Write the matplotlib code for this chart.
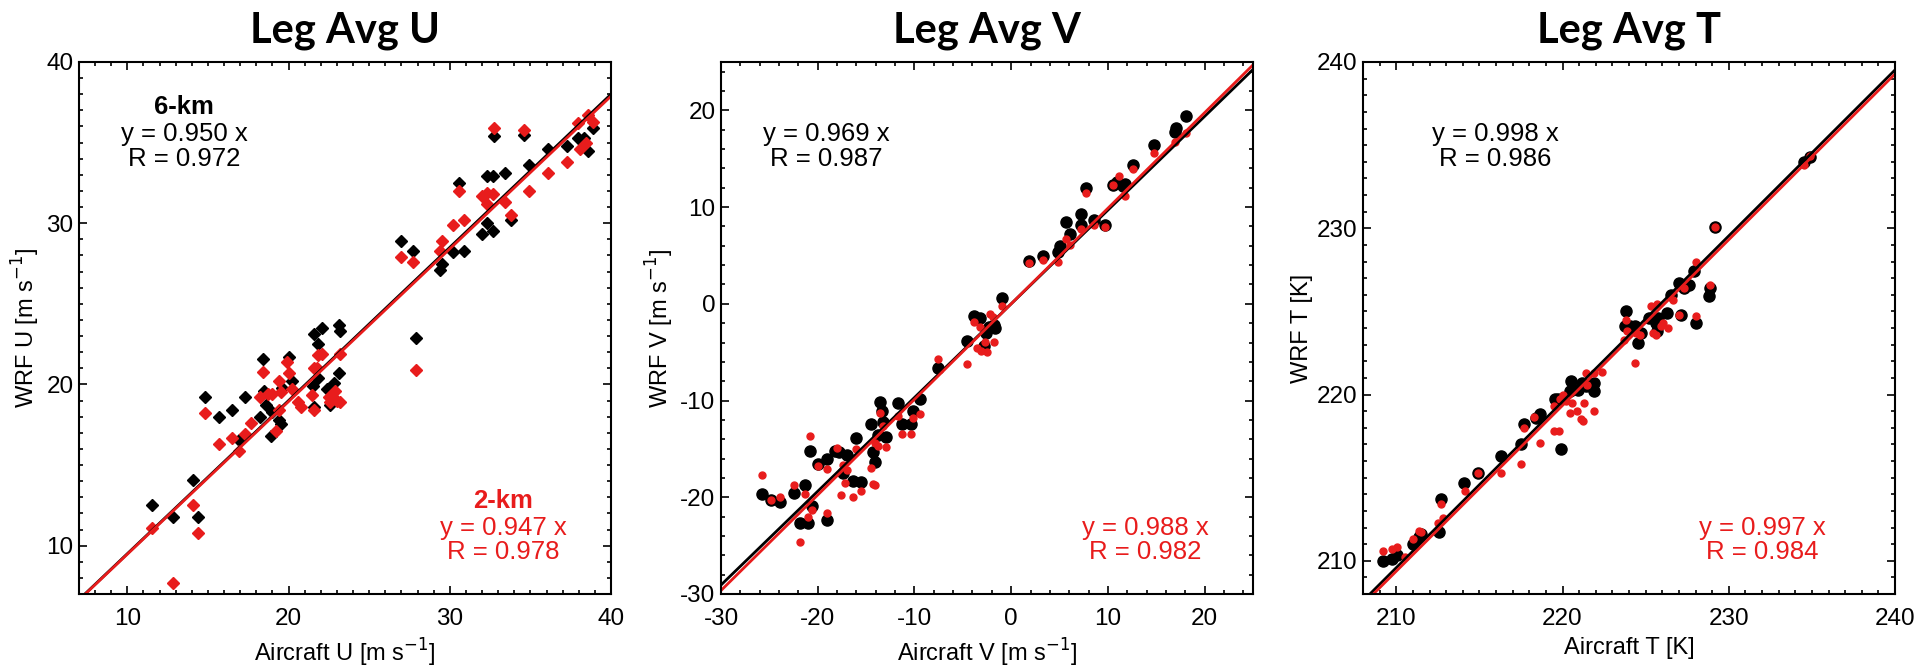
import matplotlib
matplotlib.use("Agg")
import matplotlib.pyplot as plt
from matplotlib.ticker import MultipleLocator

plt.rcParams['font.family'] = ['Liberation Sans', 'DejaVu Sans']
plt.rcParams['axes.unicode_minus'] = False

RED = '#e81c1c'

# ---- Leg Avg U (diamonds) ----
u_obs_6km = [11.5, 12.8, 14.1, 14.4, 14.8, 15.7, 16.5, 16.95, 17.3, 18.2, 18.4, 18.5,
             18.6, 18.9, 19.0, 19.4, 19.5, 19.6, 20.0, 20.2, 21.6, 21.5, 21.6, 21.8,
             22.1, 21.8, 22.4, 22.6, 22.8, 23.1, 23.1, 23.2, 27.0, 27.7, 27.9, 29.4,
             29.5, 30.2, 30.6, 30.9, 32.0, 32.3, 32.7, 32.3, 32.7, 32.75, 33.4, 33.8,
             34.6, 34.9, 36.1, 37.3, 37.95, 38.3, 38.6, 38.9]
u_wrf_6km = [12.5, 11.75, 14.1, 11.75, 19.2, 18.0, 18.4, 16.55, 19.2, 18.0, 21.6, 19.6,
             18.75, 16.8, 18.3, 17.8, 17.55, 19.8, 21.7, 20.2, 23.1, 19.9, 18.6, 22.5,
             23.5, 20.4, 19.7, 18.75, 20.1, 20.7, 23.7, 23.3, 28.9, 28.3, 22.9, 27.1,
             27.5, 28.2, 32.5, 28.3, 29.3, 30.0, 29.5, 32.9, 32.9, 35.4, 33.1, 30.2,
             35.5, 33.6, 34.6, 34.8, 35.3, 35.3, 34.5, 35.9]
u_obs_2km = [11.5, 12.8, 14.1, 14.4, 14.8, 15.7, 16.5, 16.95, 17.3, 17.7, 18.2, 18.4,
             18.75, 19.0, 19.25, 19.4, 19.55, 19.4, 19.9, 20.0, 20.2, 20.6, 20.8, 21.45,
             21.6, 21.6, 21.75, 21.8, 22.1, 22.5, 22.6, 22.9, 23.0, 23.2, 23.2, 27.0,
             27.7, 27.9, 29.4, 29.5, 30.2, 30.6, 30.9, 32.0, 32.3, 32.7, 32.3, 32.75,
             33.4, 33.8, 34.6, 34.9, 36.1, 37.3, 37.95, 38.1, 38.45, 38.6, 38.9]
u_wrf_2km = [11.1, 7.7, 12.5, 10.8, 18.2, 16.3, 16.7, 15.9, 16.9, 17.6, 19.2, 20.8,
             19.4, 19.4, 17.1, 20.2, 19.5, 18.4, 21.4, 20.7, 19.7, 18.9, 18.6, 19.35,
             18.4, 21.0, 21.0, 21.8, 21.9, 19.2, 18.9, 19.6, 19.0, 21.9, 18.9, 27.9,
             27.6, 20.9, 28.3, 28.9, 29.9, 32.0, 30.2, 31.7, 31.9, 31.8, 31.2, 35.9,
             31.3, 30.5, 35.8, 32.0, 33.1, 33.8, 36.2, 34.6, 35.0, 36.7, 36.3]

# ---- Leg Avg V (circles) ----
v_obs_6km = [-25.8, -24.8, -23.9, -22.5, -21.3, -21.85, -21.0, -20.75, -20.6, -20.0,
             -19.0, -19.0, -18.2, -17.8, -17.4, -17.0, -16.35, -16.0, -15.5, -14.5,
             -14.3, -14.1, -13.8, -13.6, -13.4, -13.3, -12.9, -11.7, -11.3, -10.4,
             -10.2, -9.4, -7.6, -4.6, -3.8, -3.2, -2.8, -2.6, -2.3, -1.8, -1.7, -0.9,
             1.8, 3.3, 4.8, 5.05, 5.7, 6.1, 7.2, 7.2, 7.7, 8.6, 9.65, 10.5, 10.95,
             11.6, 11.8, 12.6, 14.8, 16.9, 17.0, 18.1]
v_wrf_6km = [-19.7, -20.3, -20.5, -19.6, -18.7, -22.7, -22.7, -15.2, -20.9, -16.6,
             -16.0, -22.3, -15.2, -15.3, -17.5, -15.6, -18.3, -13.9, -18.4, -12.4,
             -15.3, -16.4, -13.6, -10.1, -11.1, -12.2, -13.8, -10.3, -12.4, -12.4,
             -11.1, -9.8, -6.6, -3.8, -1.3, -1.5, -4.4, -3.0, -2.4, -2.2, -2.5, 0.6,
             4.4, 4.9, 5.4, 6.0, 8.5, 7.2, 9.3, 8.2, 12.0, 8.7, 8.2, 12.3, 12.6,
             12.2, 12.4, 14.3, 16.4, 17.8, 18.2, 19.4]
v_obs_2km = [-25.8, -24.8, -23.9, -22.5, -21.85, -21.3, -21.0, -20.75, -20.6, -20.0,
             -19.0, -19.0, -18.0, -17.6, -17.4, -17.2, -17.0, -16.35, -16.0, -15.5,
             -14.5, -14.3, -14.1, -14.1, -13.8, -13.6, -13.3, -12.9, -11.7, -11.3,
             -10.4, -10.2, -9.4, -7.6, -4.6, -3.8, -3.5, -3.2, -3.1, -2.7, -2.5, -2.2,
             -1.9, -1.8, -0.9, 1.8, 3.3, 4.8, 5.7, 6.1, 7.2, 7.7, 8.6, 9.65, 10.5,
             11.1, 11.8, 12.6, 14.8, 16.9, 18.1]
v_wrf_2km = [-17.7, -20.3, -20.0, -18.7, -24.6, -19.7, -22.0, -13.7, -21.3, -16.8,
             -21.6, -17.1, -14.9, -19.8, -16.7, -18.5, -17.2, -20.0, -15.0, -19.4,
             -17.0, -18.6, -18.7, -14.4, -14.7, -11.3, -12.6, -14.8, -11.6, -13.5,
             -13.5, -11.8, -11.4, -5.7, -6.2, -1.9, -4.6, -2.4, -4.9, -3.9, -5.0, -1.1,
             -1.4, -3.9, -0.2, 4.2, 4.5, 4.3, 6.7, 6.1, 7.7, 11.5, 8.2, 7.9, 12.3,
             13.2, 11.1, 13.9, 15.6, 16.7, 17.7]

# ---- Leg Avg T (circles) ----
t_obs_6km = [209.2, 209.75, 210.05, 211.0, 211.35, 211.5, 212.55, 212.7, 214.1, 214.9,
             216.3, 217.5, 217.7, 218.4, 218.65, 219.55, 219.7, 219.9, 220.45, 220.5,
             220.95, 221.2, 221.4, 221.9, 221.9, 223.75, 223.8, 224.05, 224.35, 224.55,
             224.7, 225.2, 225.6, 225.7, 225.75, 226.3, 226.5, 227.0, 227.1, 227.3,
             227.6, 227.9, 228.05, 228.8, 228.85, 229.2, 234.5, 234.9]
t_wrf_6km = [210.0, 210.1, 210.35, 211.0, 211.4, 211.6, 211.7, 213.7, 214.7, 215.3,
             216.3, 217.0, 218.2, 218.6, 218.8, 219.7, 219.7, 216.7, 220.2, 220.8,
             220.3, 220.7, 220.5, 220.2, 220.7, 224.1, 225.0, 224.1, 224.1, 223.1,
             223.7, 224.6, 224.3, 223.8, 224.6, 224.9, 226.0, 226.7, 224.8, 226.4,
             226.6, 227.4, 224.3, 225.9, 226.4, 230.1, 234.0, 234.3]
t_obs_2km = [209.2, 209.75, 210.05, 210.5, 211.0, 211.35, 211.5, 212.5, 212.7, 212.8,
             214.15, 214.9, 216.3, 217.5, 217.7, 218.3, 218.65, 219.5, 219.8, 219.5,
             219.85, 220.0, 220.2, 220.45, 220.6, 220.9, 221.1, 221.25, 221.3, 221.4,
             221.45, 221.9, 221.9, 222.4, 223.7, 223.8, 223.9, 224.35, 224.4, 224.65,
             225.3, 225.45, 225.6, 225.7, 225.95, 226.05, 226.35, 226.65, 227.0, 227.3,
             228.0, 228.05, 228.85, 229.2, 234.5, 234.9]
t_wrf_2km = [210.6, 210.7, 210.8, 210.2, 211.3, 211.8, 211.7, 212.3, 213.4, 212.6,
             214.2, 215.3, 215.3, 215.8, 218.0, 218.65, 217.1, 217.8, 217.8, 219.3,
             219.7, 220.0, 219.6, 218.9, 219.5, 219.0, 218.5, 218.4, 219.5, 221.3,
             220.6, 219.0, 221.3, 221.35, 223.3, 224.5, 223.8, 221.9, 223.7, 223.6,
             225.3, 223.7, 223.6, 225.45, 224.1, 224.3, 224.0, 225.7, 224.8, 226.4,
             228.0, 224.7, 226.6, 230.1, 233.8, 234.35]

titles = ['Leg Avg U', 'Leg Avg V', 'Leg Avg T']
xlabels = ['Aircraft U [m s$^{-1}$]', 'Aircraft V [m s$^{-1}$]', 'Aircraft T [K]']
ylabels = ['WRF U [m s$^{-1}$]', 'WRF V [m s$^{-1}$]', 'WRF T [K]']
limits = [(7, 40), (-30, 25), (208, 240)]
majors = [10, 10, 10]
minors = [1, 2, 1]
slopes_6km = [0.950, 0.969, 0.998]
r_6km = [0.972, 0.987, 0.986]
slopes_2km = [0.947, 0.988, 0.997]
r_2km = [0.978, 0.982, 0.984]
show_res_label = [True, False, False]

panels = [
    (u_obs_6km, u_wrf_6km, u_obs_2km, u_wrf_2km),
    (v_obs_6km, v_wrf_6km, v_obs_2km, v_wrf_2km),
    (t_obs_6km, t_wrf_6km, t_obs_2km, t_wrf_2km),
]

fig = plt.figure(figsize=(19.17, 6.67), dpi=100)
lefts = [79, 721, 1363]
W, H = 1917.0, 667.0

for i, (x6, y6, x2, y2) in enumerate(panels):
    ax = fig.add_axes([lefts[i] / W, 73 / H, 532 / W, 532 / H])
    lo, hi = limits[i]
    if i == 0:
        ax.plot(x6, y6, 'D', color='black', ms=6.5, mec='black', ls='none')
        ax.plot(x2, y2, 'D', color=RED, ms=6.5, mec=RED, ls='none')
    else:
        ax.plot(x6, y6, 'o', color='black', ms=8, ls='none')
        ax.plot(x2, y2, 'o', color=RED, ms=5, ls='none')
    xs = [lo, hi]
    ax.plot(xs, [slopes_6km[i] * v for v in xs], color='black', lw=2)
    ax.plot(xs, [slopes_2km[i] * v for v in xs], color=RED, lw=2)
    ax.set_xlim(lo, hi)
    ax.set_ylim(lo, hi)

    ax.xaxis.set_major_locator(MultipleLocator(majors[i]))
    ax.yaxis.set_major_locator(MultipleLocator(majors[i]))
    ax.xaxis.set_minor_locator(MultipleLocator(minors[i]))
    ax.yaxis.set_minor_locator(MultipleLocator(minors[i]))
    ax.tick_params(which='both', direction='in', top=True, right=True, width=1.2)
    ax.tick_params(which='major', length=6, labelsize=17.5)
    ax.tick_params(which='minor', length=3)
    ax.tick_params(axis='x', which='major', pad=10)
    ax.tick_params(axis='y', which='major', pad=4)
    for sp in ax.spines.values():
        sp.set_linewidth(1.5)

    ax.set_xlabel(xlabels[i], fontsize=17, labelpad=5)
    ax.set_ylabel(ylabels[i], fontsize=17, labelpad=3)
    ax.set_title(titles[i], fontsize=30, fontweight='bold', family=['Lato', 'DejaVu Sans'],
                 pad=14)

    cx6 = 0.198 if i < 2 else 0.248
    cx2 = 0.797 if i < 2 else 0.75
    if show_res_label[i]:
        ax.text(cx6, 0.916, '6-km', transform=ax.transAxes, ha='center', va='center',
                fontsize=18.5, fontweight='bold', color='black')
        ax.text(cx2, 0.175, '2-km', transform=ax.transAxes, ha='center', va='center',
                fontsize=18.5, fontweight='bold', color=RED)
    ax.text(cx6, 0.865, 'y = %.3f x' % slopes_6km[i], transform=ax.transAxes,
            ha='center', va='center', fontsize=18.5, color='black')
    ax.text(cx6, 0.818, 'R = %.3f' % r_6km[i], transform=ax.transAxes,
            ha='center', va='center', fontsize=18.5, color='black')
    ax.text(cx2, 0.124, 'y = %.3f x' % slopes_2km[i], transform=ax.transAxes,
            ha='center', va='center', fontsize=18.5, color=RED)
    ax.text(cx2, 0.079, 'R = %.3f' % r_2km[i], transform=ax.transAxes,
            ha='center', va='center', fontsize=18.5, color=RED)

fig.savefig('out.png', dpi=100)
